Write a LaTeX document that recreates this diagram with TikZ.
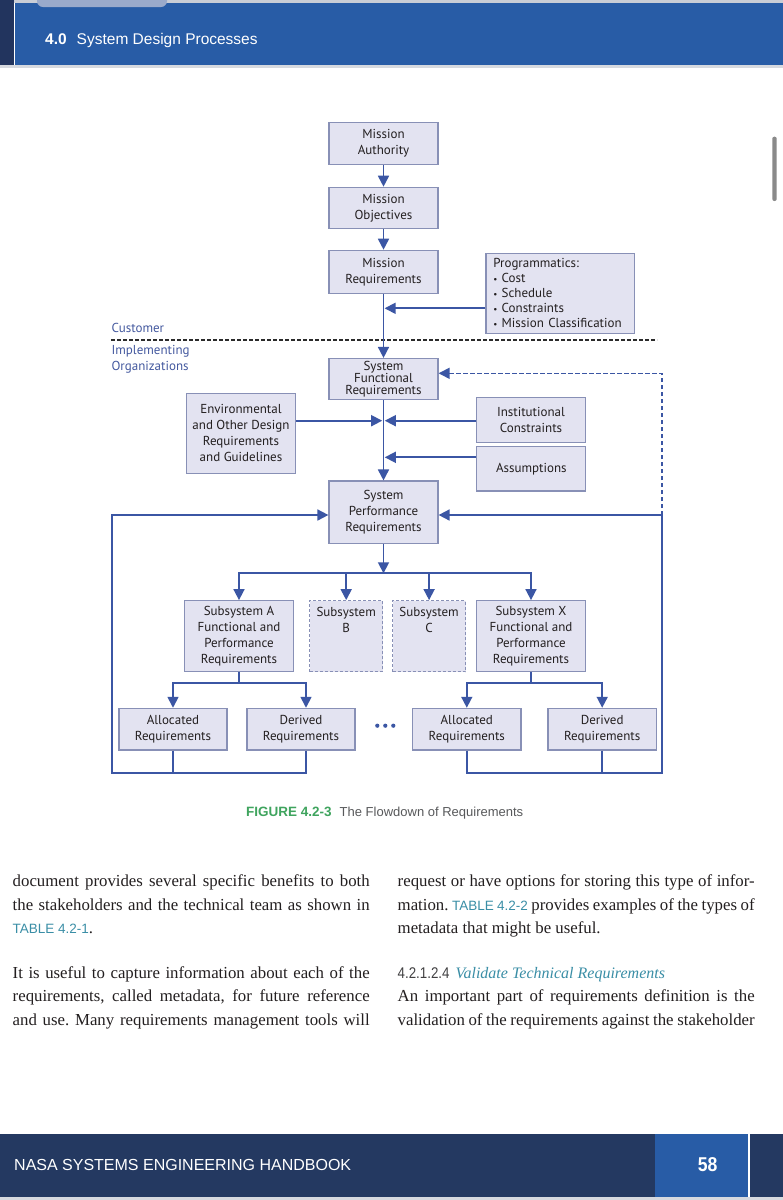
\documentclass[tikz,border=0pt]{standalone}
\usepackage{fontspec}
\usepackage{graphicx}
\setmainfont{Liberation Serif}
\newfontfamily\dfont{PT Sans}
\newfontfamily\hfont{Liberation Sans}
\usetikzlibrary{arrows.meta}
\frenchspacing
\definecolor{hdrblue}{HTML}{285CA6}
\definecolor{navy}{HTML}{22345E}
\definecolor{footnavy}{HTML}{243961}
\definecolor{tabc}{HTML}{9AAACB}
\definecolor{hdrtop}{HTML}{C9CDD6}
\definecolor{hdrline}{HTML}{D6D9DF}
\definecolor{scrollc}{HTML}{8A8A8A}
\definecolor{linec}{HTML}{3B56A4}
\definecolor{boxc}{HTML}{E3E3F1}
\definecolor{bordc}{HTML}{8890B6}
\definecolor{txtc}{HTML}{231F20}
\definecolor{custc}{HTML}{44599F}
\definecolor{figgreen}{HTML}{3FA45E}
\definecolor{capgray}{HTML}{58595B}
\definecolor{tealc}{HTML}{3A8EA6}
\definecolor{secgray}{HTML}{414042}
\definecolor{dotc}{HTML}{2B2B2B}
\newcommand\jline[1]{\makebox[357pt][s]{#1}}
\newcommand\tblf{\hfont\fontsize{13.5}{16}\selectfont\color{tealc}}
\begin{document}
\begin{tikzpicture}[x=1pt,y=-1pt,
 bx/.style={draw=bordc, fill=boxc, line width=1.2pt, inner sep=0pt, align=center,
   font=\dfont\fontsize{13}{16}\selectfont, text=txtc},
 dbx/.style={bx, dash pattern=on 3pt off 2pt},
 conn/.style={draw=linec, line width=1.7pt},
 arr/.style={conn, -{Triangle[width=11pt,length=11pt]}},
 darr/.style={draw=linec, line width=1.5pt, dash pattern=on 4.5pt off 2.5pt, -{Triangle[width=11pt,length=11pt]}},
 dotl/.style={draw=dotc, line width=1.3pt, dash pattern=on 3.5pt off 2.5pt},
 lbl/.style={anchor=base west, inner sep=0pt, font=\dfont\fontsize{13}{16}\selectfont, text=custc},
 body/.style={anchor=base west, inner sep=0pt, font=\fontsize{16.8}{20}\selectfont, text=txtc},
]
\useasboundingbox (0,0) rectangle (783,1200);
\fill[white] (0,0) rectangle (783,1200);
% header
\fill[hdrtop] (0,0) rectangle (783,3);
\fill[hdrblue] (15,3) rectangle (783,65);
\fill[navy] (0,0) rectangle (13.5,65);
\fill[hdrline] (0,65) rectangle (783,67.5);
\fill[tabc, rounded corners=6pt] (37,-10) rectangle (167,7);
\node[anchor=base west, inner sep=0pt, text=white, font=\hfont\fontsize{15.5}{18}\selectfont] (hdr) at (45,44) {\textbf{4.0}\hspace{10pt}System Design Processes};
% scrollbar
\fill[scrollc, rounded corners=2pt] (772.3,136.7) rectangle (776.7,201);

% boxes
\node[bx, minimum width=109pt, minimum height=41.6pt] (ma) at (383.5,143.5) {Mission\\Authority};
\node[bx, minimum width=109pt, minimum height=41pt] (mo) at (383.5,207.8) {Mission\\Objectives};
\node[bx, minimum width=109pt, minimum height=43pt] (mr) at (383.5,271.8) {Mission\\Requirements};
\node[bx, minimum width=148.6pt, minimum height=80pt, align=left, text width=134pt, inner xsep=7pt, font=\dfont\fontsize{13}{15}\selectfont] (prog) at (560.3,293.3)
 {Programmatics:\\\raisebox{0.8pt}{\fontsize{9}{9}\selectfont•} Cost\\\raisebox{0.8pt}{\fontsize{9}{9}\selectfont•} Schedule\\\raisebox{0.8pt}{\fontsize{9}{9}\selectfont•} Constraints\\\raisebox{0.8pt}{\fontsize{9}{9}\selectfont•} Mission Classification};
\node[lbl] (cust) at (111.4,332.7) {Customer};
\node[lbl] (impl) at (111.4,354) {Implementing};
\node[lbl] (org) at (111.4,370) {Organizations};
\node[bx, minimum width=109pt, minimum height=41pt, font=\dfont\fontsize{13}{12}\selectfont] (sfr) at (383.5,379) {System\\Functional\\Requirements};
\node[bx, minimum width=109pt, minimum height=80pt] (env) at (241,433.3) {Environmental\\and Other Design\\Requirements\\and Guidelines};
\node[bx, minimum width=109pt, minimum height=45pt] (inst) at (531,419.8) {Institutional\\Constraints};
\node[bx, minimum width=109pt, minimum height=44.3pt] (assum) at (531.3,468.8) {Assumptions};
\node[bx, minimum width=109pt, minimum height=62.3pt] (spr) at (383.5,512.2) {System\\Performance\\Requirements};
\node[bx, minimum width=109pt, minimum height=71pt] (suba) at (239,636.2) {Subsystem A\\Functional and\\Performance\\Requirements};
\node[dbx, minimum width=72.7pt, minimum height=71pt] (subb) at (346.2,636.2) {Subsystem\\B\\~\\~};
\node[dbx, minimum width=72.8pt, minimum height=71pt] (subc) at (429.1,636.2) {Subsystem\\C\\~\\~};
\node[bx, minimum width=109pt, minimum height=71pt] (subx) at (531,636.2) {Subsystem X\\Functional and\\Performance\\Requirements};
\node[bx, minimum width=108pt, minimum height=41.7pt] (al1) at (173,729.2) {Allocated\\Requirements};
\node[bx, minimum width=108pt, minimum height=41.7pt] (de1) at (301,729.2) {Derived\\Requirements};
\node[bx, minimum width=108.3pt, minimum height=41.7pt] (al2) at (466.8,729.2) {Allocated\\Requirements};
\node[bx, minimum width=108.4pt, minimum height=41.7pt] (de2) at (602.2,729.2) {Derived\\Requirements};
\foreach \xx in {377.3,385.3,393.3} \fill[linec] (\xx,725.7) circle (2.1pt);

% dotted divider
\coordinate (dl) at (111,340);
\coordinate (dr) at (657,340);
\draw[dotl] (dl) -- (dr);

% connectors
\draw[arr] (ma) -- (mo);
\draw[arr] (mo) -- (mr);
\draw[arr] (mr) -- (sfr);
\coordinate (pj) at (384.6,308.3);
\draw[arr] (prog.west |- pj) -- (pj);
\coordinate (ej) at (382.2,420.7);
\coordinate (ij) at (384.8,420.7);
\draw[arr] (env.east |- ej) -- (ej);
\draw[arr] (inst.west |- ij) -- (ij);
\coordinate (aj) at (384.8,457.3);
\draw[arr] (assum.west |- aj) -- (aj);
\draw[arr] (sfr) -- (spr);
\coordinate (fan) at (383.5,573.3);
\draw[arr] (spr) -- (fan);
\draw[arr] (fan) -| (suba);
\draw[arr] (fan) -| (subx);
\draw[arr] (subb.north |- fan) -- (subb);
\draw[arr] (subc.north |- fan) -- (subc);
\coordinate (fa) at (239,683.3);
\coordinate (fx) at (531,683.3);
\coordinate (x306) at (306,0);
\draw[conn] (suba) -- (fa);
\draw[arr] (fa) -| (al1);
\draw[arr] (fa) -| (de1.north -| x306);
\draw[conn] (subx) -- (fx);
\draw[arr] (fx) -| (al2);
\draw[arr] (fx) -| (de2);
\coordinate (bl) at (112,773.3);
\coordinate (br) at (661.8,773.3);
\coordinate (ll) at (112,515);
\coordinate (rl) at (661.8,515);
\coordinate (sfrj) at (661.8,373.3);
\draw[arr] (de1.south -| x306) |- (bl) -- (ll) -- (spr.west |- ll);
\draw[conn] (al1) -- (al1 |- bl);
\draw[arr] (al2) |- (br) -- (rl) -- (spr.east |- rl);
\draw[conn] (de2) -- (de2 |- br);
\draw[darr] (rl) -- (sfrj) -- (sfr.east |- sfrj);

% caption
\node[anchor=base west, inner sep=0pt] (cap) at (246,816) {{\hfont\bfseries\fontsize{13.5}{16}\selectfont\color{figgreen}FIGURE 4.2-3}\hspace{8pt}{\hfont\fontsize{13}{16}\selectfont\color{capgray}The Flowdown of Requirements}};

% body text
\node[body] (l1) at (12.5,886.7) {\jline{document provides several specific benefits to both}};
\node[body] (l2) at (12.5,910.1) {\jline{the stakeholders and the technical team as shown in}};
\node[body] (l3) at (12.5,933.5) {{\tblf TABLE 4.2-1}.};
\node[body] (l4) at (12.5,978.3) {\jline{It is useful to capture information about each of the}};
\node[body] (l5) at (12.5,1001.7) {\jline{requirements, called metadata, for future reference}};
\node[body] (l6) at (12.5,1025.1) {\jline{and use. Many requirements management tools will}};
\node[body] (r1) at (397.5,886.7) {\jline{request or have options for storing this type of infor-}};
\node[body] (r2) at (397.5,910.1) {\jline{mation. {\tblf TABLE 4.2-2} provides examples of the types of}};
\node[body] (r3) at (397.5,933.5) {metadata that might be useful.};
\node[body] (r4) at (397.5,978.3) {{\hfont\fontsize{15.5}{16}\selectfont\color{secgray}\scalebox{0.86}[1]{4.2.1.2.4}}\hspace{6pt}{\fontsize{16}{20}\selectfont\itshape\color{tealc}Validate Technical Requirements}};
\node[body] (r5) at (397.5,1001.7) {\jline{An important part of requirements definition is the}};
\node[body] (r6) at (397.5,1025.1) {\jline{validation of the requirements against the stakeholder}};

% footer
\fill[footnavy] (0,1134) rectangle (783,1197);
\fill[hdrblue] (655,1134) rectangle (748,1197);
\fill[white] (748,1134) rectangle (750,1197);
\fill[hdrline] (0,1197) rectangle (783,1200);
\node[anchor=base west, inner sep=0pt, text=white, font=\hfont\fontsize{16}{18}\selectfont] (foot) at (14,1170.7) {NASA SYSTEMS ENGINEERING HANDBOOK};
\node[anchor=base, inner sep=0pt, text=white, font=\hfont\bfseries\fontsize{20}{22}\selectfont] (pg) at (707.7,1171) {\scalebox{0.88}[1]{58}};
\end{tikzpicture}
\end{document}
